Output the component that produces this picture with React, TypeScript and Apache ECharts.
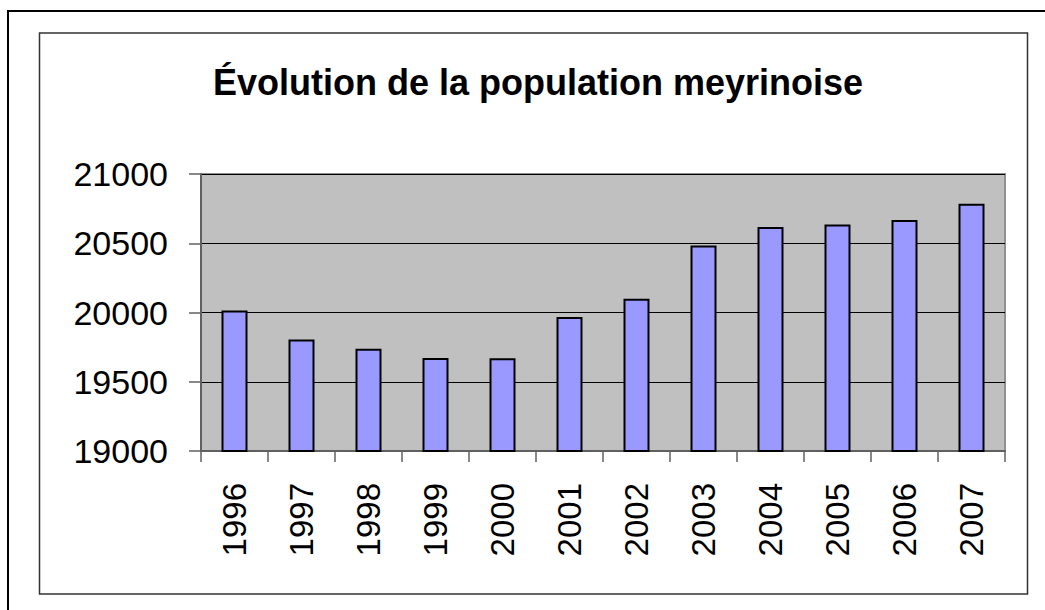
import React, { useEffect, useRef } from "react";
import * as echarts from "echarts";

const TITLE = "Évolution de la population meyrinoise";
const YEARS = ["1996", "1997", "1998", "1999", "2000", "2001", "2002", "2003", "2004", "2005", "2006", "2007"];
const POPULATION = [20015, 19805, 19739, 19672, 19670, 19968, 20100, 20484, 20618, 20635, 20667, 20785];
const Y_MIN = 19000;
const Y_MAX = 21000;
const Y_STEP = 500;

const FONT = "Arial, 'Liberation Sans', sans-serif";

export default function App() {
  const ref = useRef<HTMLDivElement>(null);
  useEffect(() => {
    if (!ref.current) return;
    const chart = echarts.init(ref.current, null, { renderer: "svg" });
    chart.setOption({
      animation: false,
      backgroundColor: "#ffffff",
      title: {
        text: TITLE,
        left: 533,
        textAlign: "center",
        top: 59,
        textStyle: { fontFamily: FONT, fontSize: 36, fontWeight: "bold", color: "#000000" },
      },
      graphic: [
        {
          type: "rect",
          shape: { x: 8, y: 11, width: 1100, height: 700 },
          style: { fill: "none", stroke: "#000000", lineWidth: 2 },
          silent: true,
          z: -10,
        },
        {
          type: "rect",
          shape: { x: 39.5, y: 33, width: 988, height: 561 },
          style: { fill: "none", stroke: "#333333", lineWidth: 1.5 },
          silent: true,
          z: -10,
        },
      ],
      grid: {
        left: 201,
        right: 40,
        top: 174,
        bottom: 159,
        show: true,
        backgroundColor: "#c0c0c0",
        borderColor: "#909090",
        borderWidth: 2,
      },
      xAxis: {
        type: "category",
        data: YEARS,
        axisLine: { show: true, lineStyle: { color: "#606060", width: 2 } },
        axisTick: { show: true, length: 11, alignWithLabel: false, lineStyle: { color: "#606060", width: 1.5 } },
        axisLabel: {
          rotate: 90,
          margin: 32,
          fontFamily: FONT,
          fontSize: 33,
          color: "#000000",
        },
        splitLine: { show: false },
      },
      yAxis: {
        type: "value",
        min: Y_MIN,
        max: Y_MAX,
        interval: Y_STEP,
        axisLine: { show: true, lineStyle: { color: "#606060", width: 2 } },
        axisTick: { show: true, length: 12, lineStyle: { color: "#606060", width: 1.5 } },
        axisLabel: {
          margin: 33,
          fontFamily: FONT,
          fontSize: 34,
          color: "#000000",
          formatter: (v: number) => String(v),
        },
        splitLine: { show: true, lineStyle: { color: "#000000", width: 1 } },
      },
      series: [
        {
          type: "bar",
          data: POPULATION,
          barWidth: 26,
          itemStyle: { color: "#9999ff", borderColor: "#000000", borderWidth: 2 },
        },
      ],
    });
    return () => chart.dispose();
  }, []);
  return (
    <div
      ref={ref}
      style={{ position: "fixed", left: 0, top: 0, width: 1045, height: 610 }}
    />
  );
}
